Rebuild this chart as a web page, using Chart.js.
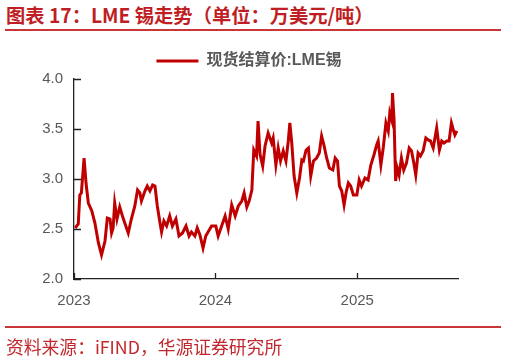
<!DOCTYPE html>
<html>
<head>
<meta charset="utf-8">
<script src="https://cdn.jsdelivr.net/npm/chart.js@4.4.1/dist/chart.umd.min.js"></script>
<style>
    html, body { margin: 0; padding: 0; background: #fff; }
    body { width: 506px; height: 361px; position: relative; overflow: hidden; }
    .title {
        position: absolute; left: 6px; top: 4px;
        font: bold 19.3px "Noto Sans CJK SC", sans-serif; line-height: 22px;
        color: #BF1E24; white-space: nowrap;
    }
    .rule { position: absolute; left: 5px; width: 496px; height: 2px; background: #C8363A; }
    .source {
        position: absolute; left: 6px; top: 334px;
        font: 17.8px "Noto Sans CJK SC", sans-serif; line-height: 24px;
        color: #C0282D; white-space: nowrap;
    }
    #wrap { position: absolute; left: 0; top: 0; width: 506px; height: 361px; }
</style>
</head>
<body>
<div class="title">图表 17：LME 锡走势（单位：万美元/吨）</div>
<div class="rule" style="top:29px"></div>
<div id="wrap"><canvas id="myChart"></canvas></div>
<div class="rule" style="top:326px"></div>
<div class="source">资料来源：iFIND，华源证券研究所</div>

<script>
// LME tin settlement price, 10k USD/t
var dates = [
    '2023-01-04', '2023-01-12', '2023-01-16', '2023-01-20', '2023-01-27', '2023-02-01', '2023-02-07', '2023-02-16',
    '2023-02-24', '2023-03-05', '2023-03-13', '2023-03-22', '2023-03-28', '2023-04-04', '2023-04-08', '2023-04-12',
    '2023-04-16', '2023-04-22', '2023-04-29', '2023-05-06', '2023-05-12', '2023-05-21', '2023-05-29', '2023-06-07',
    '2023-06-14', '2023-06-20', '2023-06-24', '2023-07-03', '2023-07-09', '2023-07-16', '2023-07-23', '2023-07-29',
    '2023-08-04', '2023-08-11', '2023-08-15', '2023-08-21', '2023-08-28', '2023-09-05', '2023-09-12', '2023-09-21',
    '2023-09-29', '2023-10-08', '2023-10-17', '2023-10-25', '2023-10-31', '2023-11-09', '2023-11-15', '2023-11-22',
    '2023-11-30', '2023-12-07', '2023-12-13', '2023-12-22', '2024-01-02', '2024-01-08', '2024-01-17', '2024-01-26',
    '2024-02-03', '2024-02-12', '2024-02-21', '2024-02-29', '2024-03-09', '2024-03-15', '2024-03-22', '2024-03-28',
    '2024-04-04', '2024-04-09', '2024-04-16', '2024-04-20', '2024-04-25', '2024-05-02', '2024-05-08', '2024-05-16',
    '2024-05-25', '2024-05-29', '2024-06-05', '2024-06-11', '2024-06-17', '2024-06-24', '2024-07-01', '2024-07-07',
    '2024-07-11', '2024-07-16', '2024-07-22', '2024-07-29', '2024-08-05', '2024-08-11', '2024-08-15', '2024-08-22',
    '2024-08-28', '2024-09-03', '2024-09-10', '2024-09-18', '2024-09-25', '2024-10-01', '2024-10-07', '2024-10-14',
    '2024-10-21', '2024-10-30', '2024-11-05', '2024-11-11', '2024-11-16', '2024-11-22', '2024-11-28', '2024-12-03',
    '2024-12-09', '2024-12-15', '2024-12-22', '2024-12-31', '2025-01-06', '2025-01-12', '2025-01-21', '2025-01-29',
    '2025-02-05', '2025-02-13', '2025-02-20', '2025-02-24', '2025-03-03', '2025-03-09', '2025-03-16', '2025-03-22',
    '2025-03-26', '2025-03-31', '2025-04-02', '2025-04-06', '2025-04-10', '2025-04-14', '2025-04-19', '2025-04-25',
    '2025-05-01', '2025-05-08', '2025-05-15', '2025-05-21', '2025-05-27', '2025-06-01', '2025-06-07', '2025-06-13',
    '2025-06-20', '2025-06-27', '2025-07-03', '2025-07-09', '2025-07-16', '2025-07-25', '2025-08-01', '2025-08-07',
    '2025-08-13', '2025-08-20', '2025-08-26', '2025-09-01', '2025-09-06', '2025-09-10', '2025-09-15'
];
var prices = [
    2.51, 2.55, 2.84, 2.86, 3.21, 2.96, 2.76, 2.68,
    2.56, 2.36, 2.24, 2.38, 2.61, 2.60, 2.46, 2.51,
    2.76, 2.60, 2.72, 2.63, 2.56, 2.46, 2.60, 2.73,
    2.89, 2.86, 2.78, 2.88, 2.93, 2.88, 2.94, 2.93,
    2.73, 2.56, 2.47, 2.58, 2.53, 2.63, 2.53, 2.60,
    2.43, 2.46, 2.53, 2.43, 2.47, 2.43, 2.51, 2.44,
    2.31, 2.43, 2.47, 2.53, 2.53, 2.43, 2.53, 2.63,
    2.50, 2.74, 2.63, 2.73, 2.78, 2.86, 2.72, 2.78,
    2.89, 3.29, 3.23, 3.58, 3.25, 3.13, 3.33, 3.46,
    3.36, 3.41, 3.14, 3.31, 3.18, 3.28, 3.18, 3.38,
    3.56, 3.36, 3.03, 2.86, 3.01, 3.19, 3.18, 3.29,
    3.31, 3.03, 3.18, 3.21, 3.26, 3.43, 3.34, 3.21,
    3.11, 3.09, 3.21, 3.18, 2.93, 2.88, 2.74, 2.86,
    2.96, 2.93, 2.84, 2.84, 2.99, 2.93, 3.01, 2.99,
    3.14, 3.24, 3.34, 3.38, 3.14, 3.31, 3.56, 3.48,
    3.66, 3.59, 3.86, 3.59, 2.98, 3.11, 3.04, 3.21,
    3.09, 3.16, 3.31, 3.28, 3.16, 3.04, 3.26, 3.23,
    3.28, 3.41, 3.39, 3.38, 3.31, 3.51, 3.29, 3.38,
    3.36, 3.38, 3.38, 3.56, 3.49, 3.44, 3.48
];
var yearLabels = ['2023', '2024', '2025'];
var yTicks = [2.0, 2.5, 3.0, 3.5, 4.0];
var seriesName = '现货结算价:LME锡';

var DAY = 86400000;
var origin = Date.UTC(2023, 0, 1);
var dayOf = function (s) {
    var p = s.split('-');
    return (Date.UTC(+p[0], +p[1] - 1, +p[2]) - origin) / DAY;
};
var yearStarts = yearLabels.map(function (y) { return dayOf(y + '-01-01'); });

var points = [];
for (var i = 0; i < dates.length; i++) {
    points.push({ x: dayOf(dates[i]), y: prices[i] });
}

var red = '#C00000';
var labelFont = { family: '"Liberation Sans", Arial, sans-serif', size: 15 };

// tick marks pointing into the plot, like the original
var innerTicks = {
    id: 'innerTicks',
    beforeDatasetsDraw: function (chart) {
        var ctx = chart.ctx, area = chart.chartArea;
        var xs = chart.scales.x, ys = chart.scales.y;
        ctx.save();
        ctx.strokeStyle = '#222';
        ctx.lineWidth = 1.3;
        ctx.beginPath();
        yTicks.forEach(function (v) {
            var py = Math.round(ys.getPixelForValue(v)) + 0.5;
            ctx.moveTo(area.left, py);
            ctx.lineTo(area.left + 7, py);
        });
        yearStarts.forEach(function (d) {
            var px = Math.round(xs.getPixelForValue(d)) + 0.5;
            ctx.moveTo(px, area.bottom);
            ctx.lineTo(px, area.bottom - 6);
        });
        ctx.stroke();
        ctx.restore();
    }
};

var ctx = document.getElementById('myChart').getContext('2d');
var myChart = new Chart(ctx, {
    type: 'line',
    data: {
        datasets: [{
            label: seriesName,
            data: points,
            borderColor: red,
            backgroundColor: red,
            borderWidth: 3,
            pointRadius: 0,
            tension: 0
        }]
    },
    options: {
        responsive: true,
        maintainAspectRatio: false,
        animation: false,
        events: [],
        layout: { padding: { top: 43, left: 40, right: 48, bottom: 51 } },
        plugins: {
            tooltip: { enabled: false },
            legend: {
                position: 'top',
                labels: {
                    boxWidth: 42,
                    boxHeight: 3,
                    padding: 10,
                    color: '#595959',
                    font: { family: '"Liberation Sans", "Noto Sans CJK SC", sans-serif', size: 16, weight: 'bold' },
                    generateLabels: function (chart) {
                        var items = Chart.defaults.plugins.legend.labels.generateLabels(chart);
                        items.forEach(function (it) { it.lineWidth = 0; });
                        return items;
                    }
                }
            }
        },
        scales: {
            x: {
                type: 'linear',
                min: 0,
                max: 991,
                grid: { display: false, drawTicks: false },
                border: { display: true, color: '#222', width: 1.3 },
                afterBuildTicks: function (scale) {
                    scale.ticks = yearStarts.map(function (d) { return { value: d }; });
                },
                afterFit: function (scale) { scale.height = 31; },
                ticks: {
                    autoSkip: false,
                    maxRotation: 0,
                    padding: 13,
                    color: '#595959',
                    font: labelFont,
                    callback: function (value) {
                        var k = yearStarts.indexOf(value);
                        return k >= 0 ? yearLabels[k] : '';
                    }
                }
            },
            y: {
                min: 2,
                max: 4,
                grid: { display: false, drawTicks: false },
                border: { display: true, color: '#222', width: 1.3 },
                afterBuildTicks: function (scale) {
                    scale.ticks = yTicks.map(function (v) { return { value: v }; });
                },
                afterFit: function (scale) { scale.width = 34; },
                ticks: {
                    padding: 11,
                    color: '#595959',
                    font: labelFont,
                    callback: function (value) { return value.toFixed(1); }
                }
            }
        }
    },
    plugins: [innerTicks]
});
</script>
</body>
</html>
